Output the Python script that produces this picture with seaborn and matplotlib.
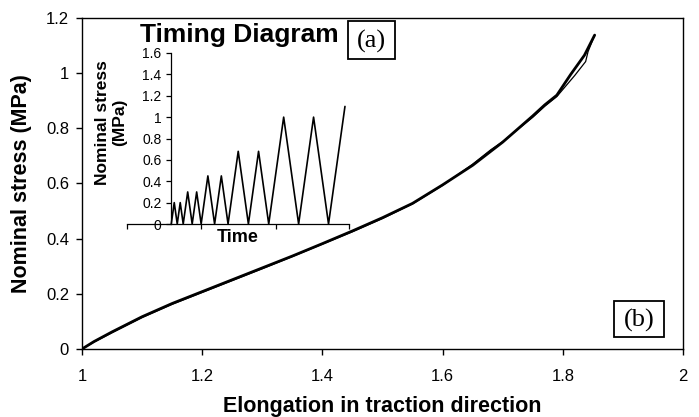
import numpy as np
import pandas as pd
import matplotlib
matplotlib.use("Agg")
import matplotlib.pyplot as plt
from matplotlib.patches import Rectangle
import seaborn as sns

# ---- data ----
elong_main = [1.0, 1.02, 1.05, 1.10, 1.15, 1.20, 1.25, 1.30, 1.35, 1.40, 1.45,
              1.50, 1.55, 1.60, 1.65, 1.70, 1.75, 1.77, 1.79, 1.813, 1.836, 1.853]
stress_main = [0.0, 0.027, 0.062, 0.117, 0.165, 0.208, 0.251, 0.294, 0.337, 0.382, 0.428,
               0.476, 0.528, 0.595, 0.666, 0.750, 0.845, 0.885, 0.920, 0.995, 1.065, 1.138]

elong_alt = [1.0, 1.02, 1.05, 1.10, 1.15, 1.20, 1.25, 1.30, 1.35, 1.40, 1.45,
             1.50, 1.55, 1.60, 1.65, 1.68, 1.70, 1.75, 1.77, 1.79,
             1.82, 1.838, 1.842, 1.853]
stress_alt = [0.0, 0.025, 0.059, 0.114, 0.162, 0.205, 0.248, 0.291, 0.335, 0.380, 0.425,
              0.473, 0.526, 0.593, 0.670, 0.722, 0.752, 0.840, 0.880, 0.915,
              0.992, 1.042, 1.078, 1.138]

time_inset = [0, 0.2, 0.4, 0.6, 0.8, 1.1, 1.4, 1.7, 2.0, 2.45, 2.9, 3.35, 3.8,
              4.48, 5.16, 5.84, 6.52, 7.52, 8.52, 9.52, 10.52, 11.62]
stress_inset = [0, 0.2, 0, 0.2, 0, 0.3, 0, 0.3, 0, 0.45, 0, 0.45, 0,
                0.68, 0, 0.68, 0, 1.0, 0, 1.0, 0, 1.1]

main_xticks = [1, 1.2, 1.4, 1.6, 1.8, 2]
main_xticklabels = ["1", "1.2", "1.4", "1.6", "1.8", "2"]
main_yticks = [0, 0.2, 0.4, 0.6, 0.8, 1.0, 1.2]
main_yticklabels = ["0", "0.2", "0.4", "0.6", "0.8", "1", "1.2"]
inset_yticks = [0, 0.2, 0.4, 0.6, 0.8, 1.0, 1.2, 1.4, 1.6]
inset_yticklabels = ["0", "0.2", "0.4", "0.6", "0.8", "1", "1.2", "1.4", "1.6"]
inset_xticks = [-2.96, 2.0, 6.98, 11.89]

sns.set_theme(style="white")
plt.rcParams['font.family'] = ['Liberation Sans', 'DejaVu Sans']
plt.rcParams.update({"text.color": "black", "axes.labelcolor": "black",
                     "xtick.color": "black", "ytick.color": "black"})

W, H = 699, 417
fig = plt.figure(figsize=(W / 100, H / 100), dpi=100)

def fx(px):
    return px / W

def fy(py):
    return (H - py) / H

# main axes
ax = fig.add_axes([fx(82), fy(349), fx(683) - fx(82), fy(18) - fy(349)])
df_main = pd.DataFrame({"e": elong_main, "s": stress_main})
df_alt = pd.DataFrame({"e": elong_alt, "s": stress_alt})
sns.lineplot(data=df_alt, x="e", y="s", ax=ax, color="black", lw=0.9,
             sort=False, estimator=None)
sns.lineplot(data=df_main, x="e", y="s", ax=ax, color="black", lw=2.0,
             sort=False, estimator=None)
ax.set_xlim(1, 2)
ax.set_ylim(0, 1.2)
ax.set_xticks(main_xticks)
ax.set_xticklabels(main_xticklabels)
ax.set_yticks(main_yticks)
ax.set_yticklabels(main_yticklabels)
ax.tick_params(axis="both", direction="out", length=4.3, width=1, color="black",
               labelsize=12, bottom=True, left=True)
ax.tick_params(axis="x", pad=10)
ax.tick_params(axis="y", pad=5)
for sp in ax.spines.values():
    sp.set_color("black")
    sp.set_linewidth(1.0)
    sp.set_visible(True)
ax.set_xlabel("Elongation in traction direction", fontsize=15.5, fontweight="bold")
ax.xaxis.set_label_coords(0.499, -0.143)
ax.set_ylabel("Nominal stress (MPa)", fontsize=15.5, fontweight="bold")
ax.yaxis.set_label_coords(-0.083, 0.50)

# inset axes
axi = fig.add_axes([fx(127), fy(224), fx(349) - fx(127), fy(53) - fy(224)])
axi.patch.set_alpha(0)
df_in = pd.DataFrame({"t": time_inset, "s": stress_inset})
sns.lineplot(data=df_in, x="t", y="s", ax=axi, color="black", lw=1.2,
             sort=False, estimator=None)
axi.set_xlim(inset_xticks[0], inset_xticks[-1])
axi.set_ylim(0, 1.6)
axi.spines["left"].set_position(("data", 0))
axi.spines["top"].set_visible(False)
axi.spines["right"].set_visible(False)
for s in ("left", "bottom"):
    axi.spines[s].set_color("black")
    axi.spines[s].set_linewidth(0.9)
axi.set_xticks(inset_xticks)
axi.set_xticklabels([])
axi.set_yticks(inset_yticks)
axi.set_yticklabels(inset_yticklabels)
axi.tick_params(axis="both", direction="out", length=3.5, width=0.9, color="black",
                labelsize=10, pad=3.5, bottom=True, left=True)
axi.set_xlabel("Time", fontsize=13, fontweight="bold")
axi.xaxis.set_label_coords(0.5, -0.03)
axi.set_ylabel("Nominal stress\n(MPa)", fontsize=12.5, fontweight="bold",
               linespacing=1.15)
axi.yaxis.set_label_coords(0.0, 0.596)

fig.text(fx(239), fy(35), "Timing Diagram", fontsize=19, fontweight="bold",
         ha="center", va="center")

# labelled boxes
for (x0, y0, x1, y1, lab) in [(348, 21, 395, 59, "(a)"), (614, 301, 664, 337, "(b)")]:
    fig.patches.append(Rectangle((fx(x0), fy(y1)), fx(x1) - fx(x0), fy(y0) - fy(y1),
                                 transform=fig.transFigure, fill=False,
                                 edgecolor="black", lw=1.3))
    fig.text(fx((x0 + x1) / 2), fy((y0 + y1) / 2 + 1), lab, fontsize=19,
             family=["Liberation Serif", "DejaVu Serif"], ha="center", va="center")

fig.savefig("out.png", dpi=100)
